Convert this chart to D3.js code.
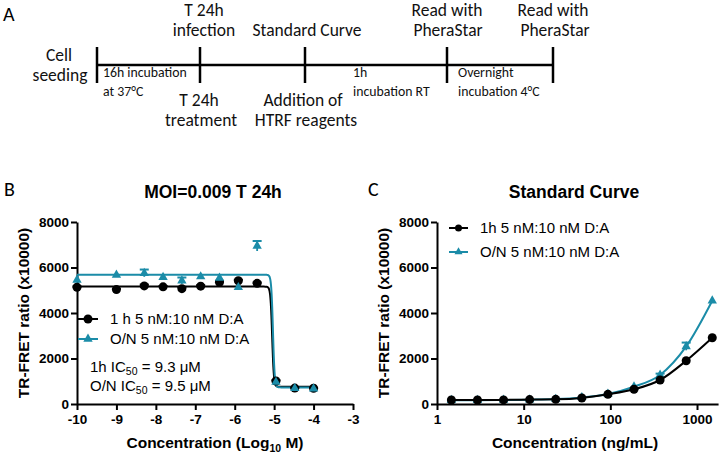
<!DOCTYPE html>
<html><head><meta charset="utf-8">
<script src="https://cdn.jsdelivr.net/npm/d3@7"></script>
<style>body{margin:0;background:#fff}svg{display:block}</style>
</head><body>
<svg id="chart" width="720" height="454"></svg>
<script>
// ---------- DATA ----------
// Panel B: concentration (log10 M) vs TR-FRET ratio
const bLogConc = [-10, -9, -8.294, -7.817, -7.34, -6.863, -6.386, -5.908, -5.431, -4.954, -4.477, -4];
const b1h      = [5130, 5030, 5190, 5150, 5070, 5180, 5350, 5420, 5305, 1010, 700, 690];
const b1hErr   = [40, 40, 60, 40, 60, 40, 60, 40, 40, 30, 20, 20];
const bON      = [5450, 5670, 5750, 5570, 5420, 5600, 5540, 5130, 6945, 960, 690, 670];
const bONErr   = [0, 0, 160, 0, 140, 0, 0, 0, 220, 0, 0, 0];
// 4PL fit parameters
const bFit1h = {top: 5160, bottom: 760, logIC50: -5.05, hill: 20};
const bFitON = {top: 5680, bottom: 730, logIC50: -5.03, hill: 20};
const bXTicks = [-10, -9, -8, -7, -6, -5, -4, -3];
const yTicks = [0, 2000, 4000, 6000, 8000];

// Panel C: standard curve (ng/mL)
const cConc  = [1.465, 2.93, 5.86, 11.72, 23.44, 46.88, 93.75, 187.5, 375, 750, 1500];
const c1h    = [175, 175, 180, 195, 205, 265, 426, 646, 1055, 1903, 2914];
const cON    = [165, 165, 175, 190, 215, 290, 440, 760, 1275, 2530, 4541];
const cONErr = [0, 0, 0, 0, 0, 0, 0, 0, 60, 170, 0];
const cXTicks = [1, 10, 100, 1000];

const legendLabelsB = ["1 h 5 nM:10 nM D:A", "O/N 5 nM:10 nM D:A"];
const legendLabelsC = ["1h 5 nM:10 nM D:A", "O/N 5 nM:10 nM D:A"];

// Panel A timeline
const timelineTicks = [97, 200, 305, 447, 553];

// ---------- STYLE ----------
const TEAL = "#1b8ca8";
const BLACK = "#000";
const SANS = "'Liberation Sans', Arial, sans-serif";
const HUM = "Carlito, Lato, sans-serif";

const svg = d3.select("#chart");

// ---------- PANEL A ----------
const gA = svg.append("g");
gA.append("text").attr("x", 3).attr("y", 21).attr("font-family", HUM).attr("font-size", 20).text("A");
gA.append("line").attr("x1", timelineTicks[0]).attr("x2", timelineTicks[timelineTicks.length-1])
  .attr("y1", 65).attr("y2", 65).attr("stroke", BLACK).attr("stroke-width", 2.5);
gA.selectAll("line.tk").data(timelineTicks).join("line").attr("class","tk")
  .attr("x1", d => d).attr("x2", d => d).attr("y1", 47).attr("y2", 83)
  .attr("stroke", BLACK).attr("stroke-width", 2.5);
const bigLabels = [
  ["Cell", 59, 60.5], ["seeding", 60, 81],
  ["T 24h", 204, 16], ["infection", 204, 36],
  ["T 24h", 199, 106], ["treatment", 201, 126],
  ["Standard Curve", 307, 36],
  ["Addition of", 303, 106], ["HTRF reagents", 306, 126],
  ["Read with", 447, 16], ["PheraStar", 448, 36],
  ["Read with", 553, 16], ["PheraStar", 555, 36]
];
gA.selectAll("text.big").data(bigLabels).join("text").attr("class","big")
  .attr("x", d => d[1]).attr("y", d => d[2]).attr("text-anchor","middle")
  .attr("font-family", HUM).attr("font-size", 17.5).attr("fill", "#111").text(d => d[0]);
const smallLabels = [
  ["16h incubation", 103, 77], ["at 37°C", 103, 96],
  ["1h", 353, 77], ["incubation RT", 353, 96],
  ["Overnight", 458, 77], ["incubation 4°C", 458, 96]
];
gA.selectAll("text.small").data(smallLabels).join("text").attr("class","small")
  .attr("x", d => d[1]).attr("y", d => d[2])
  .attr("font-family", HUM).attr("font-size", 13.8).attr("fill", "#111").text(d => d[0]);

// ---------- SHARED ----------
const y = d3.scaleLinear().domain([0, 8000]).range([404, 222]);

function styleAxis(g) {
  g.selectAll("path.domain").attr("stroke", BLACK).attr("stroke-width", 2);
  g.selectAll(".tick line").attr("stroke", BLACK).attr("stroke-width", 2);
  g.selectAll(".tick text").attr("font-family", SANS).attr("font-weight", "bold")
    .attr("font-size", 13.5).attr("fill", BLACK);
}
function triangle() { return d3.symbol(d3.symbolTriangle).size(38)(); }

function errorBars(g, xs, ys, errs, xScale, color) {
  const pts = xs.map((x, i) => ({x, y: ys[i], e: errs[i]})).filter(d => d.e > 0);
  g.selectAll(null).data(pts).join("line")
    .attr("x1", d => xScale(d.x)).attr("x2", d => xScale(d.x))
    .attr("y1", d => y(d.y + d.e)).attr("y2", d => y(d.y - d.e))
    .attr("stroke", color).attr("stroke-width", 1.8);
  g.selectAll(null).data(pts).join("line")
    .attr("x1", d => xScale(d.x) - 4.5).attr("x2", d => xScale(d.x) + 4.5)
    .attr("y1", d => y(d.y + d.e)).attr("y2", d => y(d.y + d.e))
    .attr("stroke", color).attr("stroke-width", 2);
}

function yTitle(xPos) {
  svg.append("text").attr("transform", `translate(${xPos},313) rotate(-90)`)
    .attr("text-anchor", "middle").attr("font-family", SANS).attr("font-weight", "bold")
    .attr("font-size", 15.5).text("TR-FRET ratio (x10000)");
}

// ---------- PANEL B ----------
const bx = d3.scaleLinear().domain([-10, -3]).range([77, 353]);
svg.append("text").attr("x", 4).attr("y", 196).attr("font-family", HUM).attr("font-size", 20).text("B");
svg.append("text").attr("x", 213).attr("y", 198).attr("text-anchor","middle")
  .attr("font-family", SANS).attr("font-weight","bold").attr("font-size", 17.5).text("MOI=0.009 T 24h");

const gBx = svg.append("g").attr("transform", "translate(0,404)")
  .call(d3.axisBottom(bx).tickValues(bXTicks).tickSize(6).tickSizeOuter(0).tickPadding(4).tickFormat(d => String(d)));
styleAxis(gBx);
const gBy = svg.append("g").attr("transform", "translate(77,0)")
  .call(d3.axisLeft(y).tickValues(yTicks).tickSize(6).tickSizeOuter(0).tickPadding(2).tickFormat(d => String(d)));
styleAxis(gBy);
yTitle(29);

const xt = svg.append("text").attr("x", 215).attr("y", 448).attr("text-anchor","middle")
  .attr("font-family", SANS).attr("font-weight","bold").attr("font-size", 15.5);
xt.append("tspan").text("Concentration (Log");
xt.append("tspan").attr("font-size", 10.5).attr("dy", 4).text("10");
xt.append("tspan").attr("dy", -4).text(" M)");

function fit4pl(p) {
  return x => p.bottom + (p.top - p.bottom) / (1 + Math.pow(10, (x - p.logIC50) * p.hill));
}
const fitXs = d3.range(-10, -3.999, 0.005);
const bLine = d3.line().x(d => bx(d[0])).y(d => y(d[1]));
const f1 = fit4pl(bFit1h), f2 = fit4pl(bFitON);
svg.append("path").attr("d", bLine(fitXs.map(x => [x, f1(x)])))
  .attr("fill","none").attr("stroke", BLACK).attr("stroke-width", 2);
svg.append("path").attr("d", bLine(fitXs.map(x => [x, f2(x)])))
  .attr("fill","none").attr("stroke", TEAL).attr("stroke-width", 2);

const gBm = svg.append("g");
errorBars(gBm, bLogConc, b1h, b1hErr, bx, BLACK);
gBm.selectAll("circle").data(bLogConc.map((x, i) => [x, b1h[i]])).join("circle")
  .attr("cx", d => bx(d[0])).attr("cy", d => y(d[1])).attr("r", 4.5).attr("fill", BLACK);
errorBars(gBm, bLogConc, bON, bONErr, bx, TEAL);
gBm.selectAll("path.tri").data(bLogConc.map((x, i) => [x, bON[i]])).join("path").attr("class","tri")
  .attr("d", triangle()).attr("transform", d => `translate(${bx(d[0])},${y(d[1])})`).attr("fill", TEAL);

// legend B
const legB = svg.append("g");
[[319, BLACK, "c"], [339, TEAL, "t"]].forEach((r, i) => {
  legB.append("line").attr("x1", 78).attr("x2", 98).attr("y1", r[0]).attr("y2", r[0])
    .attr("stroke", r[1]).attr("stroke-width", 2);
  if (r[2] === "c") legB.append("circle").attr("cx", 88).attr("cy", r[0]).attr("r", 4.5).attr("fill", r[1]);
  else legB.append("path").attr("d", triangle()).attr("transform", `translate(88,${r[0]})`).attr("fill", r[1]);
  legB.append("text").attr("x", 110).attr("y", r[0] + 5.3).attr("font-family", SANS)
    .attr("font-size", 15).text(legendLabelsB[i]);
});
[["1h IC", "50", " = 9.3 μM", 371.5], ["O/N IC", "50", " = 9.5 μM", 390.5]].forEach(a => {
  const t = svg.append("text").attr("x", 90).attr("y", a[3]).attr("font-family", SANS).attr("font-size", 15);
  t.append("tspan").text(a[0]);
  t.append("tspan").attr("font-size", 10.5).attr("dy", 3.5).text(a[1]);
  t.append("tspan").attr("dy", -3.5).text(a[2]);
});

// ---------- PANEL C ----------
const cx = d3.scaleLog().domain([1, 1750]).range([437, 437 + 86.67 * Math.log10(1750)]);
svg.append("text").attr("x", 368).attr("y", 196).attr("font-family", HUM).attr("font-size", 20).text("C");
svg.append("text").attr("x", 574).attr("y", 198).attr("text-anchor","middle")
  .attr("font-family", SANS).attr("font-weight","bold").attr("font-size", 17.5).text("Standard Curve");

const gCx = svg.append("g").attr("transform", "translate(0,404)")
  .call(d3.axisBottom(cx).tickValues(cXTicks).tickSize(6).tickSizeOuter(0).tickPadding(4).tickFormat(d => String(d)));
styleAxis(gCx);
const gCy = svg.append("g").attr("transform", "translate(437,0)")
  .call(d3.axisLeft(y).tickValues(yTicks).tickSize(6).tickSizeOuter(0).tickPadding(2).tickFormat(d => String(d)));
styleAxis(gCy);
yTitle(389);
svg.append("text").attr("x", 575).attr("y", 448).attr("text-anchor","middle")
  .attr("font-family", SANS).attr("font-weight","bold").attr("font-size", 15.5).text("Concentration (ng/mL)");

const cLine = d3.line().x(d => cx(d[0])).y(d => y(d[1])).curve(d3.curveMonotoneX);
svg.append("path").attr("d", cLine(cConc.map((c, i) => [c, cON[i]])))
  .attr("fill","none").attr("stroke", TEAL).attr("stroke-width", 2);
const gCm = svg.append("g");
errorBars(gCm, cConc, cON, cONErr, cx, TEAL);
gCm.selectAll("path.tri").data(cConc.map((c, i) => [c, cON[i]])).join("path").attr("class","tri")
  .attr("d", triangle()).attr("transform", d => `translate(${cx(d[0])},${y(d[1])})`).attr("fill", TEAL);
svg.append("path").attr("d", cLine(cConc.map((c, i) => [c, c1h[i]])))
  .attr("fill","none").attr("stroke", BLACK).attr("stroke-width", 2);
svg.append("g").selectAll("circle").data(cConc.map((c, i) => [c, c1h[i]])).join("circle")
  .attr("cx", d => cx(d[0])).attr("cy", d => y(d[1])).attr("r", 4.5).attr("fill", BLACK);

// legend C
const legC = svg.append("g");
[[228, BLACK, "c"], [252, TEAL, "t"]].forEach((r, i) => {
  legC.append("line").attr("x1", 449).attr("x2", 468).attr("y1", r[0]).attr("y2", r[0])
    .attr("stroke", r[1]).attr("stroke-width", 2);
  if (r[2] === "c") legC.append("circle").attr("cx", 458.5).attr("cy", r[0]).attr("r", 3.5).attr("fill", r[1]);
  else legC.append("path").attr("d", d3.symbol(d3.symbolTriangle).size(28)()).attr("transform", `translate(458.5,${r[0]})`).attr("fill", r[1]);
  legC.append("text").attr("x", 480).attr("y", r[0] + 5.3).attr("font-family", SANS)
    .attr("font-size", 15).text(legendLabelsC[i]);
});
</script>
</body></html>
